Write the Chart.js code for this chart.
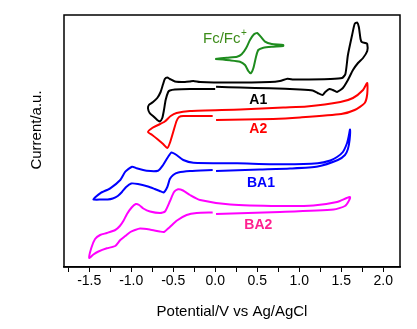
<!DOCTYPE html>
<html><head><meta charset="utf-8">
<script src="https://cdn.jsdelivr.net/npm/chart.js@4.4.1/dist/chart.umd.min.js"></script>
<style>html,body{margin:0;padding:0;background:#fff;}canvas{display:block;}</style>
</head><body>
<canvas id="c" width="417" height="329" style="width:417px;height:329px"></canvas>
<script>
// Potential (V vs Ag/AgCl), current (a.u.) pairs, in scan order
const a1Curve = [[0.00,178],[-0.30,178],[-0.48,177.5],[-0.54,176.5],[-0.56,175],[-0.59,167],[-0.61,157],[-0.63,149],[-0.66,145.5],[-0.69,147],[-0.74,151],[-0.78,154],[-0.80,158.5],[-0.79,162],[-0.74,165],[-0.69,169],[-0.65,175],[-0.62,183],[-0.60,188],[-0.57,189.5],[-0.54,188],[-0.48,185.5],[-0.36,185],[-0.30,185.5],[-0.26,186],[-0.18,185],[0.18,184.5],[0.65,185],[0.77,186],[0.86,188.3],[0.93,187.5],[1.01,187.5],[1.37,188],[1.51,189],[1.55,193],[1.58,212],[1.63,232],[1.66,243],[1.69,244.5],[1.71,240],[1.73,228],[1.745,225],[1.79,224],[1.81,223],[1.81,216],[1.76,209],[1.70,204],[1.64,197],[1.58,187],[1.52,179],[1.45,175],[1.40,177],[1.36,178],[1.31,175],[1.28,172],[1.22,174],[1.16,176.5],[1.01,177.5],[0.65,178.7],[0.30,179.5],[0.01,180.2]];
const a2Curve = [[-0.03,151],[-0.38,151],[-0.43,150],[-0.46,146],[-0.50,135],[-0.54,124],[-0.57,119],[-0.62,123],[-0.69,128],[-0.75,132],[-0.80,135],[-0.75,139],[-0.68,142],[-0.60,145.5],[-0.53,151],[-0.46,154],[-0.30,156],[0.30,157.5],[0.81,159.5],[1.09,160.5],[1.49,165],[1.64,169],[1.76,177],[1.81,184],[1.81,173],[1.78,164],[1.66,157],[1.50,153],[1.01,149.5],[0.69,148],[0.01,147]];
const ba1Curve = [[-0.03,97],[-0.30,96],[-0.44,94.5],[-0.50,92],[-0.54,88],[-0.57,80],[-0.615,74.5],[-0.66,76],[-0.72,78],[-0.80,80.5],[-0.92,83],[-1.00,83.5],[-1.06,80],[-1.11,75],[-1.16,71],[-1.22,68.5],[-1.28,67.5],[-1.35,67.5],[-1.45,67.5],[-1.37,73.7],[-1.25,78.7],[-1.13,87],[-1.07,95.3],[-0.99,100.3],[-0.935,98.7],[-0.815,96.3],[-0.68,96.3],[-0.62,102],[-0.56,110.3],[-0.52,114.5],[-0.46,112],[-0.38,107],[-0.26,104.3],[0.26,103.7],[0.83,102.7],[1.22,103.7],[1.37,106.5],[1.45,110],[1.52,115],[1.57,124],[1.59,131],[1.605,137.5],[1.60,127],[1.58,118],[1.545,112],[1.46,107],[1.22,100.5],[0.89,98.5],[0.53,97.5],[0.01,96]];
const ba2Curve = [[-0.03,54.5],[-0.22,54],[-0.34,52],[-0.455,46.5],[-0.54,40],[-0.61,35],[-0.66,35.5],[-0.78,37.5],[-0.895,38.5],[-0.955,37],[-1.01,35],[-1.07,31],[-1.13,27],[-1.19,21],[-1.29,18.7],[-1.39,15.5],[-1.45,12.5],[-1.50,9],[-1.475,19],[-1.43,28],[-1.37,32],[-1.29,34],[-1.19,37],[-1.135,41],[-1.09,46.5],[-1.05,53],[-0.995,59.5],[-0.945,63],[-0.905,62],[-0.856,58.5],[-0.776,55.5],[-0.657,54],[-0.598,55.5],[-0.538,66],[-0.49,75],[-0.443,77.7],[-0.383,76.5],[-0.30,72],[-0.18,67],[0.18,62.5],[0.77,61],[1.17,61.5],[1.45,65],[1.565,69],[1.605,70],[1.59,66],[1.545,61],[1.41,57.5],[0.77,55],[0.01,53]];
const fcCurve = [[0.00,208],[0.14,209.3],[0.26,210.3],[0.315,212.7],[0.367,218.7],[0.414,227],[0.462,232.7],[0.50,234],[0.542,230.3],[0.593,225.3],[0.673,223],[0.81,222],[0.81,221],[0.69,220.3],[0.573,219.3],[0.513,217],[0.486,210.3],[0.454,198.7],[0.423,193.7],[0.394,196],[0.355,202],[0.295,205.3],[0.176,206.7],[0.00,208]];

const seriesNames = ['A1','A2','BA1','BA2','Fc/Fc+'];
const tickValues = [-1.75,-1.5,-1.25,-1.0,-0.75,-0.5,-0.25,0.0,0.25,0.5,0.75,1.0,1.25,1.5,1.75,2.0];
const xRange = [-1.8, 2.2];
const yRange = [0, 252];

// curve annotations: text, potential, current
const curveLabels = [
  {text:'A1', v:0.513, i:167, color:'#000000'},
  {text:'A2', v:0.513, i:138, color:'#ff0000'},
  {text:'BA1', v:0.545, i:83.7, color:'#0000ff'},
  {text:'BA2', v:0.513, i:41.5, color:'#ff2090'}
];
const fcLabel = {text:'Fc/Fc', sup:'+', v:-0.145, i:223.7, color:'#3d8c1a'};

const FONT = "'Liberation Sans', Arial, Helvetica, sans-serif";
const toXY = arr => arr.map(p => ({x:p[0], y:p[1]}));
const colors = ['#000000','#ff0000','#0000ff','#ff00ff','#1e8c1e'];
const curves = [a1Curve, a2Curve, ba1Curve, ba2Curve, fcCurve];

const datasets = curves.map((c, k) => ({
  label: seriesNames[k],
  data: toXY(c),
  showLine: true,
  borderColor: colors[k],
  backgroundColor: colors[k],
  borderWidth: 2,
  pointRadius: 0,
  tension: 0.2,
  fill: false
}));

const decoPlugin = {
  id: 'deco',
  afterDatasetsDraw(chart) {
    const {ctx, chartArea: a, scales: {x, y}} = chart;
    ctx.save();
    ctx.textAlign = 'center';
    ctx.textBaseline = 'middle';
    ctx.font = 'bold 14px ' + FONT;
    curveLabels.forEach(l => {
      ctx.fillStyle = l.color;
      ctx.fillText(l.text, x.getPixelForValue(l.v), y.getPixelForValue(l.i));
    });
    ctx.textAlign = 'left';
    ctx.textBaseline = 'alphabetic';
    ctx.font = '15px ' + FONT;
    ctx.fillStyle = fcLabel.color;
    const fx = x.getPixelForValue(fcLabel.v), fy = y.getPixelForValue(fcLabel.i);
    ctx.fillText(fcLabel.text, fx, fy);
    const w = ctx.measureText(fcLabel.text).width;
    ctx.font = '10px ' + FONT;
    ctx.fillText(fcLabel.sup, fx + w + 0.5, fy - 7);
    ctx.strokeStyle = '#000';
    ctx.lineWidth = 1.5;
    ctx.strokeRect(a.left, a.top, a.right - a.left, a.bottom - a.top);
    ctx.save();
    ctx.translate(37, (a.top + a.bottom) / 2 - 11);
    ctx.rotate(-Math.PI / 2);
    ctx.textAlign = 'center';
    ctx.textBaseline = 'middle';
    ctx.font = '15px ' + FONT;
    ctx.fillStyle = '#000';
    ctx.fillText('Current/a.u.', 0, 0);
    ctx.restore();
    ctx.restore();
  }
};

new Chart(document.getElementById('c'), {
  type: 'scatter',
  data: {datasets},
  options: {
    responsive: false,
    animation: false,
    devicePixelRatio: 1,
    layout: {padding: {left: 64, right: 17, top: 15, bottom: 0}},
    plugins: {legend: {display: false}, tooltip: {enabled: false}},
    scales: {
      x: {
        type: 'linear', min: xRange[0], max: xRange[1],
        afterBuildTicks: s => { s.ticks = tickValues.map(v => ({value: v})); },
        afterFit: s => { s.height = 62; },
        grid: {display: true, drawOnChartArea: false, drawTicks: true, tickLength: 5, tickColor: '#000', tickWidth: 1, color: '#000'},
        border: {display: true, color: '#000', width: 1.5},
        ticks: {
          padding: 1, color: '#000', autoSkip: false, maxRotation: 0,
          font: {family: FONT, size: 14},
          callback: v => (Math.abs(v * 2 - Math.round(v * 2)) < 1e-6 ? Number(v).toFixed(1) : '')
        },
        title: {display: true, text: 'Potential/V vs Ag/AgCl', color: '#000', font: {family: FONT, size: 15}, padding: {top: 0, bottom: 8.5}}
      },
      y: {display: false, min: yRange[0], max: yRange[1]}
    }
  },
  plugins: [decoPlugin]
});
</script>
</body></html>
